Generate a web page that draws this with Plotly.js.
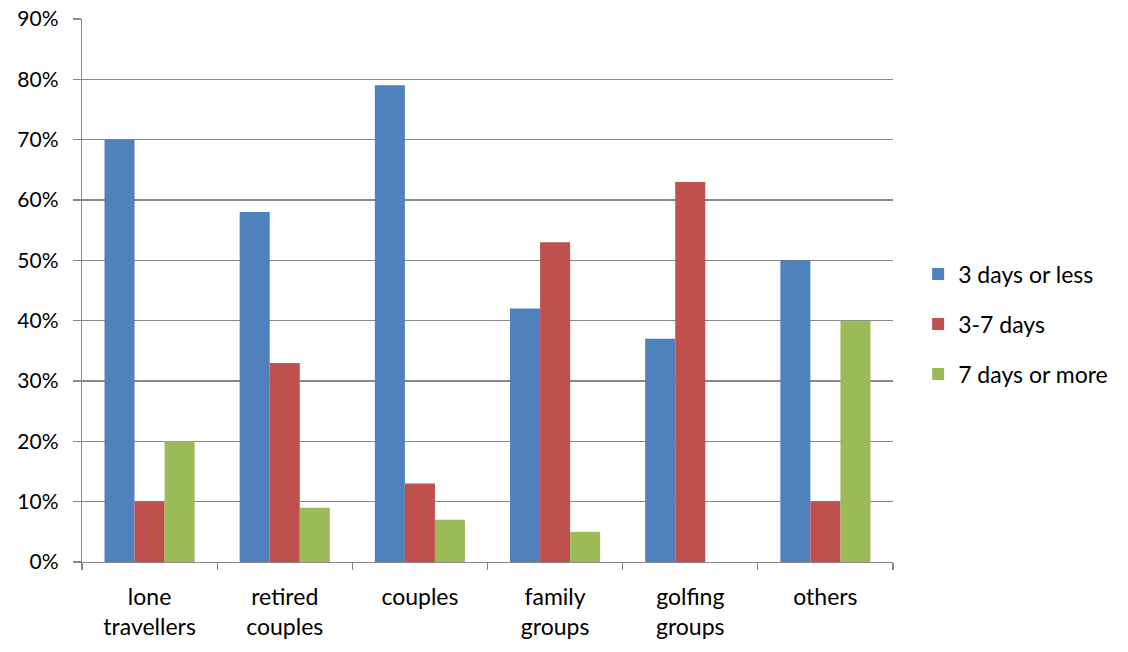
<!DOCTYPE html>
<html>
<head>
<meta charset="utf-8">
<script src="https://cdn.plot.ly/plotly-3.0.1.min.js"></script>
<style>
  html, body { margin: 0; padding: 0; background: #fff; }
  #chart { width: 1128px; height: 652px; }
</style>
</head>
<body>
<div id="chart"></div>
<script>
// Length of stay by traveller type (percent of each group)
const categories = ["lone<br>travellers", "retired<br>couples", "couples", "family<br>groups", "golfing<br>groups", "others"];
const seriesNames = ["3 days or less", "3-7 days", "7 days or more"];
const shortStay = [70, 58, 79, 42, 37, 50];
const midStay = [10, 33, 13, 53, 63, 10];
const longStay = [20, 9, 7, 5, 0, 40];
const yTickValues = [0, 10, 20, 30, 40, 50, 60, 70, 80, 90];

const colors = ["#4f81bd", "#c0504d", "#9bbb59"];
const seriesValues = [shortStay, midStay, longStay];

const traces = seriesValues.map((vals, i) => ({
  type: "bar",
  name: seriesNames[i],
  legendgroup: "g" + i,
  x: categories,
  y: vals,
  marker: { color: colors[i], line: { width: 0 } },
  hoverinfo: "x+y+name"
}));

const gridGray = "#878787";
const family = "Lato, 'Open Sans', sans-serif";
const yFont = { family: family, size: 21, color: "#000" };
const labelFont = { family: family, size: 23, color: "#000" };

const layout = {
  width: 1128,
  height: 652,
  margin: { l: 82, r: 235, t: 19, b: 90 },
  paper_bgcolor: "#fff",
  plot_bgcolor: "#fff",
  font: labelFont,
  barmode: "group",
  bargap: 0.333,
  bargroupgap: 0,
  showlegend: true,
  legend: {
    x: 1.031, xanchor: "left",
    y: 0.438, yanchor: "middle",
    font: labelFont,
    traceorder: "grouped",
    tracegroupgap: 17,
    bgcolor: "rgba(0,0,0,0)"
  },
  xaxis: {
    type: "category",
    showgrid: false,
    showline: true,
    linecolor: gridGray,
    linewidth: 1.25,
    ticks: "outside",
    tickson: "boundaries",
    ticklen: 7,
    tickcolor: gridGray,
    tickwidth: 1.25,
    ticklabelstandoff: 14,
    tickfont: labelFont,
    automargin: false,
    fixedrange: true
  },
  yaxis: {
    range: [0, 90],
    tickvals: yTickValues,
    ticktext: yTickValues.map(v => v + "%"),
    showgrid: true,
    gridcolor: gridGray,
    gridwidth: 1.25,
    zeroline: false,
    showline: true,
    linecolor: gridGray,
    linewidth: 1.25,
    ticks: "outside",
    ticklen: 8,
    tickcolor: gridGray,
    tickwidth: 1.25,
    ticklabelstandoff: 10,
    tickfont: yFont,
    automargin: false,
    fixedrange: true
  }
};

Plotly.newPlot("chart", traces, layout, { displayModeBar: false, staticPlot: true });
</script>
</body>
</html>
